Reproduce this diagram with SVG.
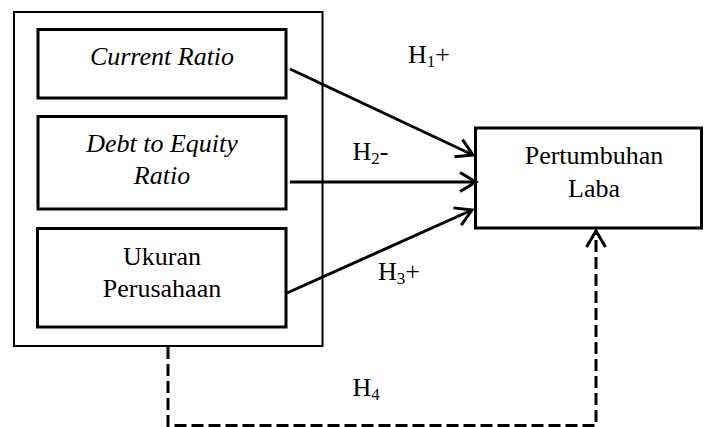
<svg xmlns="http://www.w3.org/2000/svg" width="704" height="427" viewBox="0 0 704 427">
<style>
.t{font-family:"Liberation Serif","Times New Roman",serif;font-size:26px;fill:#000}
.i{font-style:italic}
.s{font-size:17px}
.box{fill:#fff;stroke:#000;stroke-width:3}
.outer{fill:#fff;stroke:#000;stroke-width:2}
.ln{fill:none;stroke:#000;stroke-width:3}
.dash{stroke-dasharray:12 5}
</style>
<defs>
<marker id="ah" markerUnits="userSpaceOnUse" markerWidth="24" markerHeight="24" viewBox="-20 -12 24 24" refX="0" refY="0" orient="auto">
<path d="M-16,-9.5 L0,0 L-16,9.5" fill="none" stroke="#000" stroke-width="3" stroke-dasharray="none"/>
</marker>
</defs>
<g id="group-box">
<rect class="outer" x="14" y="12" width="308.5" height="334"/>
</g>
<g id="current-ratio">
<rect class="box" x="38" y="29.5" width="248" height="68.5"/>
<text class="t i" x="162" y="65" text-anchor="middle">Current Ratio</text>
</g>
<g id="der">
<rect class="box" x="38" y="116.5" width="248" height="92.5"/>
<text class="t i" x="162" y="152" text-anchor="middle">Debt to Equity</text>
<text class="t i" x="162" y="184" text-anchor="middle">Ratio</text>
</g>
<g id="ukuran">
<rect class="box" x="37.5" y="228.5" width="248.5" height="98.5"/>
<text class="t" x="162" y="265" text-anchor="middle">Ukuran</text>
<text class="t" x="162" y="296.5" text-anchor="middle">Perusahaan</text>
</g>
<g id="laba">
<rect class="box" x="475.5" y="128" width="226" height="100"/>
<text class="t" x="594" y="164" text-anchor="middle">Pertumbuhan</text>
<text class="t" x="594" y="197" text-anchor="middle">Laba</text>
</g>
<g id="connectors">
<line class="ln" x1="290" y1="69" x2="473" y2="155" marker-end="url(#ah)"/>
<line class="ln" x1="290" y1="182" x2="476" y2="182" marker-end="url(#ah)"/>
<line class="ln" x1="287" y1="293" x2="472" y2="210" marker-end="url(#ah)"/>
<path class="ln dash" d="M168,347 V425.5 H596 V231" marker-end="url(#ah)"/>
</g>
<g id="labels">
<text class="t" x="408" y="63">H<tspan class="s" dy="4">1</tspan><tspan dy="-4">+</tspan></text>
<text class="t" x="352.5" y="160">H<tspan class="s" dy="4">2</tspan><tspan dy="-4">-</tspan></text>
<text class="t" x="378" y="280">H<tspan class="s" dy="4">3</tspan><tspan dy="-4">+</tspan></text>
<text class="t" x="352.5" y="396">H<tspan class="s" dy="4">4</tspan></text>
</g>
</svg>
